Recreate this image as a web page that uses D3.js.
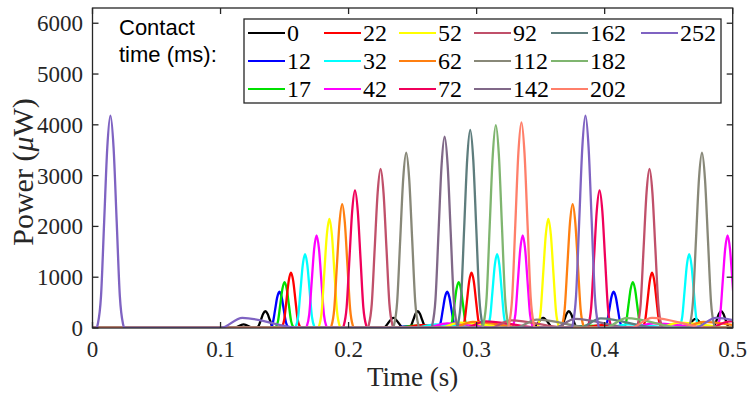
<!DOCTYPE html>
<html><head><meta charset="utf-8">
<script src="https://cdn.jsdelivr.net/npm/d3@7"></script>
<style>body{margin:0;background:#fff;} svg{display:block;}</style>
</head><body><svg id="c" width="749" height="394"></svg>
<script>
// ---------- data ----------
const contactTimes = [0,12,17,22,32,42,52,62,72,92,112,142,162,182,202,252];
const seriesColors = ["#000000","#0000ff","#00e000","#ff0000","#00ffff","#ff00ff","#ffff00","#ff7f10",
                      "#f0005a","#c0506a","#888878","#806888","#5e7d7d","#7fb56f","#ff7f6a","#7f63c2"];
// main pulses: times (s) and one height (µW) per series
const peakTimes = [
  [0.135,0.254,0.372,0.491],
  [0.146,0.277,0.407],
  [0.150,0.286,0.422],
  [0.155,0.296,0.437],
  [0.166,0.316,0.466],
  [0.175,0.336,0.496],
  [0.185,0.356],
  [0.195,0.375],
  [0.205,0.396],
  [0.225,0.435],
  [0.245,0.476],
  [0.275],
  [0.295],
  [0.315],
  [0.335],
  [0.014,0.385]
];
const peakHeights = [330,715,905,1090,1455,1825,2150,2440,2710,3130,3450,3765,3900,3995,4050,4180];
// full width at half maximum of the pulses (s)
const peakWidths = [0.0068,0.0068,0.0068,0.007,0.0072,0.0076,0.008,0.0083,0.0087,0.0092,0.0094,0.0095,0.0095,0.0096,0.0096,0.0098];
// pulse profile: offset (in FWHM units) -> fraction of peak height
const pulseOffsets = [-1.1,-1,-0.75,-0.5,-0.25,0,0.25,0.5,0.75,1,1.1];
const pulseFractions = [0,0.02,0.15,0.5,0.85,1,0.85,0.5,0.15,0.02,0];
// small trailing echoes (time, height)
const echoTimes = [
  [], [0.248,0.379], [0.252,0.388], [0.257,0.398], [0.268,0.418], [0.277,0.438], [0.287,0.458],
  [0.297,0.477], [0.307,0.498], [0.327], [0.347], [0.377], [0.397], [0.417], [0.437], [0.117,0.487]
];
const echoHeights = [0,35,45,55,70,90,105,120,130,150,165,180,190,195,200,200];
// small pre-bumps of the 0 ms trace
const preBumpTimes = [0.118,0.235,0.352,0.471];
const preBumpHeights = [70,200,200,180];

const xTicks = [0,0.1,0.2,0.3,0.4,0.5];
const yTicks = [0,1000,2000,3000,4000,5000,6000];

// ---------- layout ----------
const svg = d3.select("#c");
const L = 92.5, R = 732.7, T = 8, B = 328;
const x = d3.scaleLinear().domain([0,0.5]).range([L,R]);
const y = d3.scaleLinear().domain([0,6300]).range([B,T]);
const serif = "'Liberation Serif','Times New Roman',serif";
const sans = "'Liberation Sans',Arial,sans-serif";

function buildSeries(i){
  const comps = [];
  const w = peakWidths[i], h = peakHeights[i];
  peakTimes[i].forEach(t => comps.push({s:t+pulseOffsets[0]*w,
      pts:pulseOffsets.map((o,k)=>[t+o*w, h*pulseFractions[k]])}));
  echoTimes[i].forEach(t => comps.push({s:t-0.017, echo:true, t, h:echoHeights[i]}));
  if (i === 0) preBumpTimes.forEach((t,k) => comps.push({s:t-0.008, pts:[[t-0.008,0],[t,preBumpHeights[k]],[t+0.008,0]]}));
  comps.sort((a,b)=>a.s-b.s);
  const pts = [[0,0]];
  comps.forEach((c,k) => {
    if (c.echo) {
      const next = comps[k+1] ? comps[k+1].s : 1;
      const end = Math.min(c.t+0.045, next-0.0005);
      c.pts = [[c.t-0.017,0],[c.t,c.h],[end,0]];
    }
    c.pts.forEach(p => { if (p[0] > pts[pts.length-1][0]) pts.push(p); });
  });
  pts.push([0.52,0]);
  return pts;
}

svg.append("defs").append("clipPath").attr("id","clip")
  .append("rect").attr("x",L).attr("y",T).attr("width",R-L).attr("height",B-T);

const line = d3.line().x(d=>x(d[0])).y(d=>y(d[1])).curve(d3.curveMonotoneX);
const g = svg.append("g").attr("clip-path","url(#clip)");
contactTimes.forEach((c,i) => {
  g.append("path").datum(buildSeries(i))
    .attr("d", line).attr("fill","none")
    .attr("stroke", seriesColors[i]).attr("stroke-width",2.3).attr("stroke-linejoin","round");
});

// axes (box with inward ticks)
const axisColor = "#262626";
svg.append("rect").attr("x",L).attr("y",T).attr("width",R-L).attr("height",B-T)
  .attr("fill","none").attr("stroke",axisColor).attr("stroke-width",1.3);
const tk = 6;
const gx = svg.append("g");
xTicks.forEach(v => {
  gx.append("line").attr("x1",x(v)).attr("x2",x(v)).attr("y1",B).attr("y2",B-tk).attr("stroke",axisColor).attr("stroke-width",1.3);
  gx.append("line").attr("x1",x(v)).attr("x2",x(v)).attr("y1",T).attr("y2",T+tk).attr("stroke",axisColor).attr("stroke-width",1.3);
  gx.append("text").attr("x",x(v)).attr("y",357).attr("text-anchor","middle")
    .attr("font-family",serif).attr("font-size",23).attr("fill","#262626").text(d3.format("")(v));
});
yTicks.forEach(v => {
  gx.append("line").attr("x1",L).attr("x2",L+tk).attr("y1",y(v)).attr("y2",y(v)).attr("stroke",axisColor).attr("stroke-width",1.3);
  gx.append("line").attr("x1",R).attr("x2",R-tk).attr("y1",y(v)).attr("y2",y(v)).attr("stroke",axisColor).attr("stroke-width",1.3);
  gx.append("text").attr("x",83).attr("y",y(v)+8).attr("text-anchor","end")
    .attr("font-family",serif).attr("font-size",23).attr("fill","#262626").text(v);
});
svg.append("text").attr("x",(L+R)/2).attr("y",386).attr("text-anchor","middle")
  .attr("font-family",serif).attr("font-size",27).attr("fill","#262626").text("Time (s)");
const yl = svg.append("text").attr("transform",`translate(33,172) rotate(-90)`)
  .attr("text-anchor","middle").attr("font-family",serif).attr("font-size",30).attr("fill","#262626");
yl.append("tspan").text("Power (");
yl.append("tspan").attr("font-style","italic").text("μ");
yl.append("tspan").text("W)");

// "Contact time (ms):"
svg.append("text").attr("x",119).attr("y",35).attr("font-family",sans).attr("font-size",22).attr("fill","#000").text("Contact");
svg.append("text").attr("x",119).attr("y",62).attr("font-family",sans).attr("font-size",22).attr("fill","#000").text("time (ms):");

// legend
const lg = svg.append("g");
lg.append("rect").attr("x",244).attr("y",19).attr("width",477).attr("height",84)
  .attr("fill","#fff").attr("stroke",axisColor).attr("stroke-width",1.3);
const colStarts = [248,324,399,474,551,641];
const rowY = [33,61,89];
contactTimes.forEach((c,i) => {
  const col = Math.floor(i/3), row = i%3;
  const x0 = colStarts[col], yy = rowY[row];
  lg.append("line").attr("x1",x0).attr("x2",x0+37).attr("y1",yy).attr("y2",yy)
    .attr("stroke",seriesColors[i]).attr("stroke-width",2);
  lg.append("text").attr("x",x0+39).attr("y",yy+8).attr("font-family",serif).attr("font-size",24)
    .attr("fill","#000").text(c);
});
</script></body></html>
